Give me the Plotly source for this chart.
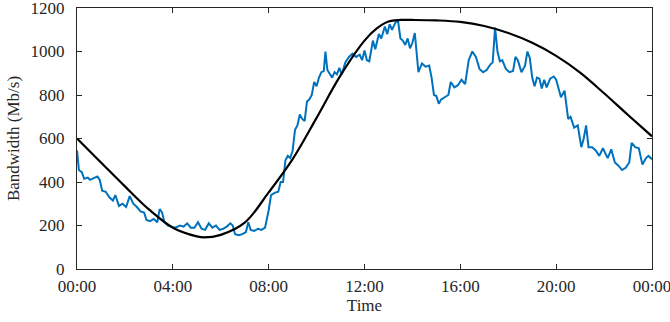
import plotly.graph_objects as go

# Measured bandwidth (blue), hours since midnight
meas_hours = [0.0, 0.08, 0.2, 0.3, 0.45, 0.55, 0.7, 0.85, 0.95, 1.05, 1.2, 1.35, 1.5, 1.6, 1.75, 1.9,
              2.05, 2.2, 2.35, 2.5, 2.65, 2.8, 2.9, 3.05, 3.2, 3.35, 3.45, 3.55, 3.65, 3.8, 3.95,
              4.1, 4.3, 4.45, 4.6, 4.75, 4.9, 5.05, 5.2, 5.35, 5.5, 5.65, 5.8, 5.95, 6.1, 6.25,
              6.4, 6.5, 6.6, 6.75, 6.9, 7.05, 7.15, 7.25, 7.4, 7.55, 7.7, 7.85, 8.0, 8.1, 8.25,
              8.4, 8.5, 8.6, 8.7, 8.8, 8.9, 9.0, 9.1, 9.2, 9.3, 9.4, 9.5, 9.6, 9.7, 9.8, 9.9,
              10.0, 10.1, 10.2, 10.3, 10.37, 10.45, 10.55, 10.65, 10.75, 10.85, 10.95, 11.05,
              11.2, 11.35, 11.5, 11.65, 11.8, 11.9, 12.0, 12.1, 12.2, 12.35, 12.45, 12.6, 12.7,
              12.85, 12.95, 13.05, 13.15, 13.3, 13.4, 13.5, 13.6, 13.7, 13.8, 13.9, 14.0, 14.1,
              14.25, 14.4, 14.55, 14.7, 14.8, 14.9, 15.0, 15.1, 15.2, 15.35, 15.5, 15.6, 15.75,
              15.9, 16.05, 16.2, 16.35, 16.5, 16.65, 16.8, 16.95, 17.1, 17.25, 17.35, 17.45,
              17.55, 17.65, 17.75, 17.9, 18.05, 18.2, 18.3, 18.4, 18.55, 18.7, 18.8, 18.9, 19.0,
              19.1, 19.2, 19.3, 19.4, 19.5, 19.6, 19.75, 19.9, 20.0, 20.1, 20.2, 20.35, 20.5,
              20.6, 20.75, 20.9, 21.05, 21.15, 21.25, 21.35, 21.5, 21.65, 21.8, 21.95, 22.05,
              22.15, 22.3, 22.45, 22.6, 22.75, 22.9, 23.05, 23.15, 23.3, 23.45, 23.6, 23.75,
              23.85, 24.0]
meas_values = [545, 455, 445, 415, 420, 410, 418, 425, 410, 360, 355, 330, 315, 340, 290, 300,
               285, 335, 300, 285, 265, 260, 225, 220, 230, 215, 275, 260, 215, 200, 195,
               190, 200, 195, 210, 190, 190, 215, 185, 180, 210, 190, 200, 180, 185, 195,
               210, 200, 160, 155, 160, 170, 215, 180, 175, 185, 180, 190, 270, 340, 350,
               355, 400, 400, 500, 520, 510, 545, 640, 660, 710, 690, 680, 770, 780, 800, 860,
               840, 880, 905, 910, 1000, 915, 900, 880, 905, 895, 925, 895,
               950, 975, 990, 975, 985, 960, 1005, 960, 955, 1050, 1010, 1080, 1060,
               1115, 1080, 1125, 1100, 1135, 1140, 1060, 1050, 1030, 1060, 1015, 1040, 1085,
               905, 945, 930, 935, 880, 800, 795, 760, 780, 790, 800, 860, 835,
               845, 870, 850, 960, 1000, 975, 920, 905, 915, 940, 950, 1110,
               1000, 955, 960, 920, 905, 910, 975, 960, 905, 935, 1000, 970, 880,
               840, 880, 875, 830, 870, 835, 875, 885, 870, 830, 790, 820, 690,
               700, 650, 660, 560, 600, 660, 560, 560, 545, 520, 555, 530,
               510, 550, 490, 475, 455, 465, 490, 580, 560, 555, 480, 510,
               520, 505]

# Model curve (black)
model_hours = [0, 1, 2, 3, 4, 5, 5.3, 6, 7, 8, 9, 10, 11, 12, 12.5, 13, 13.5, 14, 15, 16,
               17, 18, 19, 20, 21, 22, 23, 24]
model_values = [600, 490, 380, 274, 190, 150, 145, 157, 213, 352, 505, 695, 890, 1050, 1105,
                1138, 1145, 1145, 1143, 1136, 1117, 1085, 1040, 980, 903, 808, 708, 610]

x_tick_vals = [0, 4, 8, 12, 16, 20, 24]
x_tick_text = ["00:00", "04:00", "08:00", "12:00", "16:00", "20:00", "00:00"]
y_tick_vals = [0, 200, 400, 600, 800, 1000, 1200]

fig = go.Figure()
fig.add_trace(go.Scatter(x=meas_hours, y=meas_values, mode="lines",
                         line=dict(color="#0072BD", width=2), showlegend=False))
fig.add_trace(go.Scatter(x=model_hours, y=model_values, mode="lines",
                         line=dict(color="black", width=2.2, shape="spline", smoothing=1.0),
                         showlegend=False))

family = "Liberation Serif, Times New Roman, serif"
font = dict(family=family, size=17, color="#262626")
axis_common = dict(showline=True, linecolor="#262626", linewidth=1, mirror="ticks",
                   ticks="inside", ticklen=5, tickcolor="#262626", showgrid=False,
                   zeroline=False, tickfont=font, automargin=False,
                   ticklabeloverflow="allow")

fig.update_layout(
    width=670, height=322,
    margin=dict(l=77, r=18, t=8, b=53),
    plot_bgcolor="white", paper_bgcolor="white",
    font=font,
    xaxis=dict(range=[0, 24], tickvals=x_tick_vals, ticktext=x_tick_text,
               ticklabelstandoff=2,
               title=dict(text="Time", font=dict(size=17, family=family, color="#262626"),
                          standoff=2),
               **axis_common),
    yaxis=dict(range=[0, 1200], tickvals=y_tick_vals, ticklabelstandoff=8,
               title=dict(text="Bandwidth (Mb/s)",
                          font=dict(size=17, family=family, color="#262626"),
                          standoff=6),
               **axis_common),
)

fig.write_html("out.html")
